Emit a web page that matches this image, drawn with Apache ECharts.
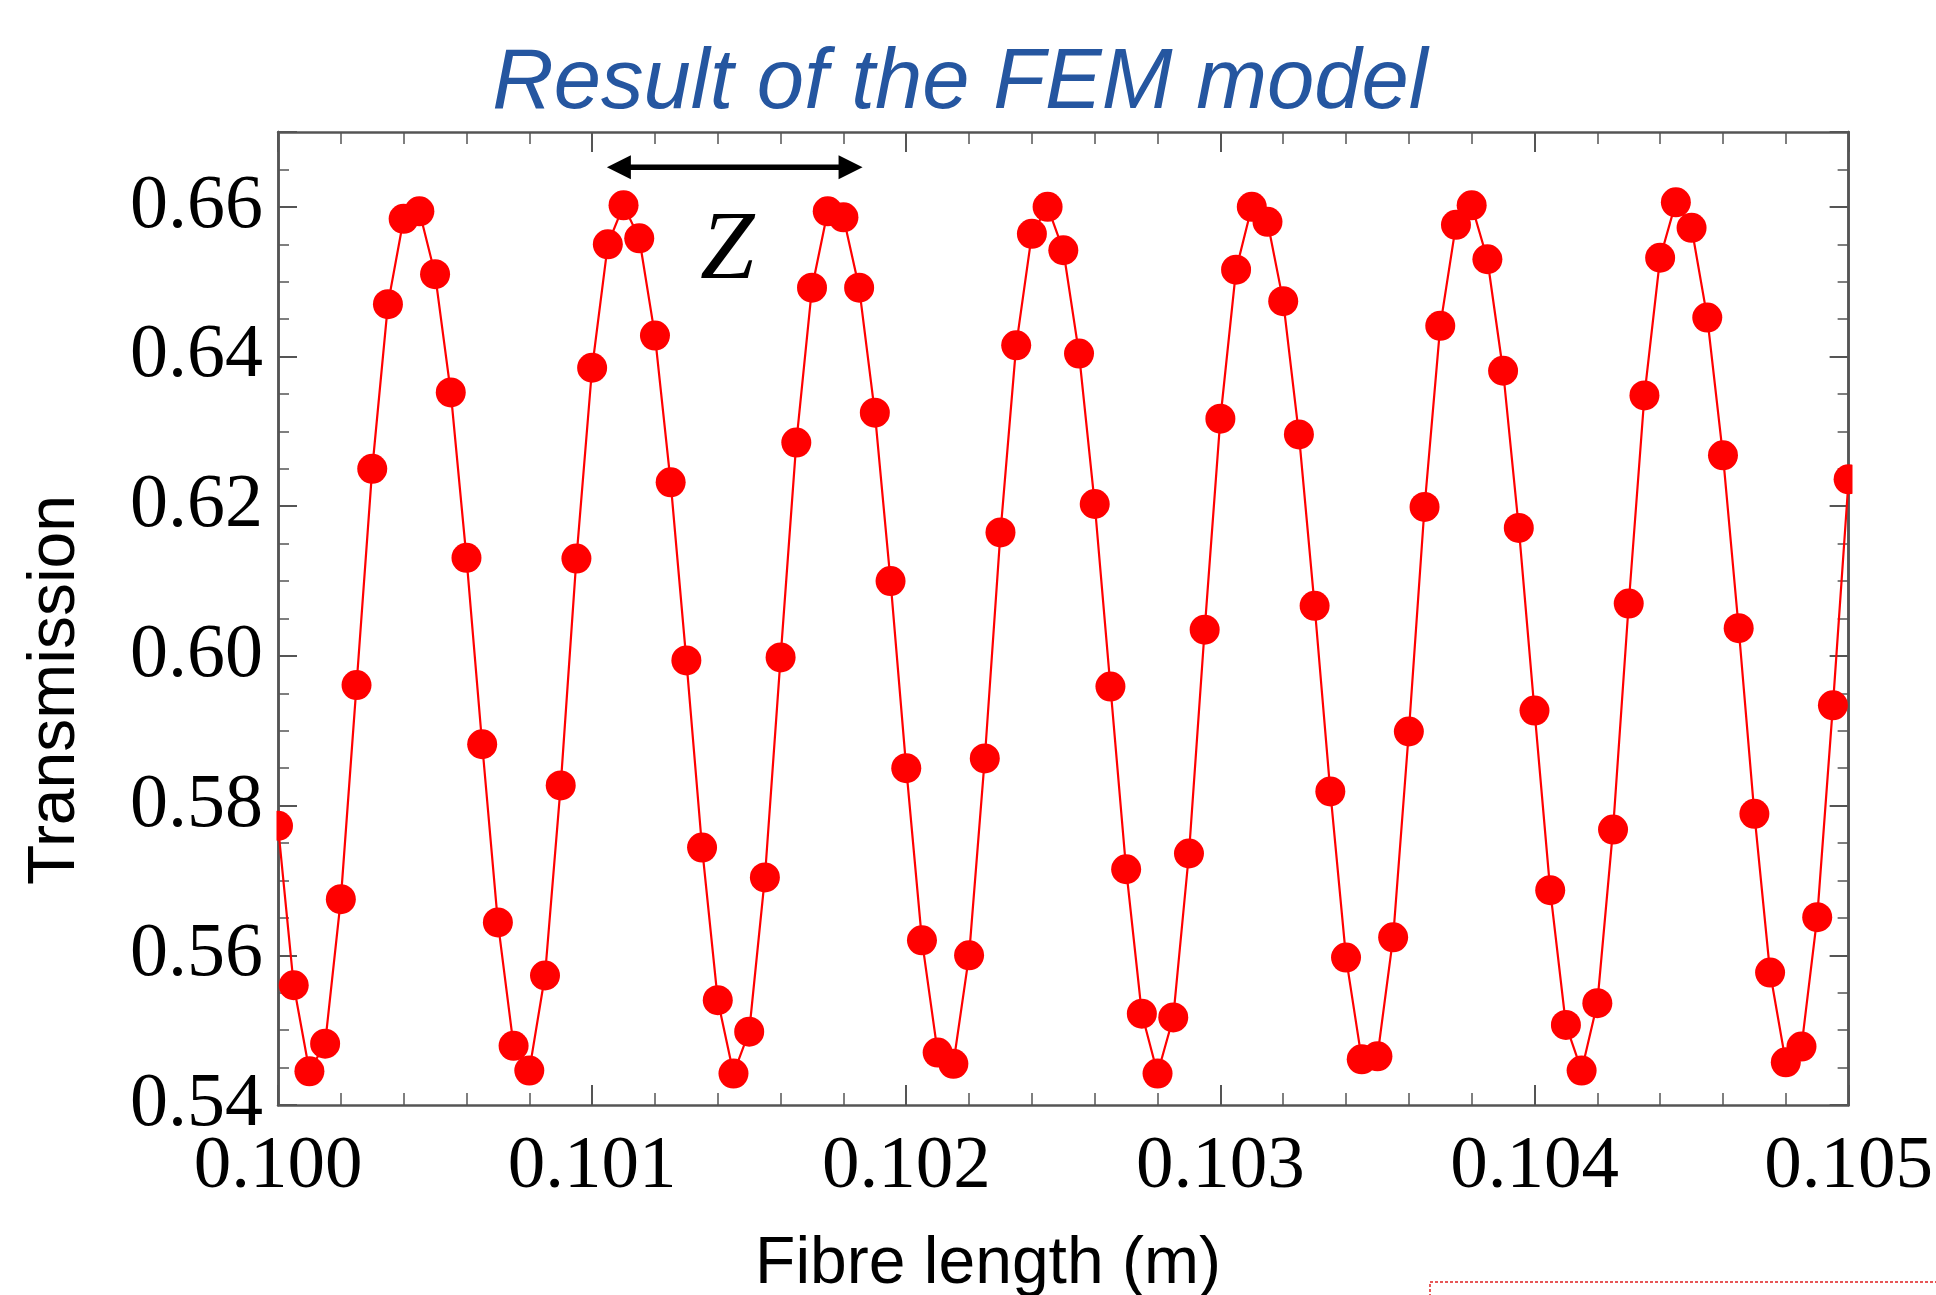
<!DOCTYPE html>
<html>
<head>
<meta charset="utf-8">
<script src="https://cdn.jsdelivr.net/npm/echarts@6/dist/echarts.min.js"></script>
<style>
html,body{margin:0;padding:0;background:#ffffff;}
#chart{width:1936px;height:1295px;}
</style>
</head>
<body>
<div id="chart"></div>
<script>
// ---- data ----
const fibreLength = [
  0.10000,0.10005,0.10010,0.10015,0.10020,0.10025,0.10030,0.10035,0.10040,0.10045,
  0.10050,0.10055,0.10060,0.10065,0.10070,0.10075,0.10080,0.10085,0.10090,0.10095,
  0.10100,0.10105,0.10110,0.10115,0.10120,0.10125,0.10130,0.10135,0.10140,0.10145,
  0.10150,0.10155,0.10160,0.10165,0.10170,0.10175,0.10180,0.10185,0.10190,0.10195,
  0.10200,0.10205,0.10210,0.10215,0.10220,0.10225,0.10230,0.10235,0.10240,0.10245,
  0.10250,0.10255,0.10260,0.10265,0.10270,0.10275,0.10280,0.10285,0.10290,0.10295,
  0.10300,0.10305,0.10310,0.10315,0.10320,0.10325,0.10330,0.10335,0.10340,0.10345,
  0.10350,0.10355,0.10360,0.10365,0.10370,0.10375,0.10380,0.10385,0.10390,0.10395,
  0.10400,0.10405,0.10410,0.10415,0.10420,0.10425,0.10430,0.10435,0.10440,0.10445,
  0.10450,0.10455,0.10460,0.10465,0.10470,0.10475,0.10480,0.10485,0.10490,0.10495,
  0.10500
];
const transmission = [
  0.5773,0.5560,0.5445,0.5482,0.5675,0.5961,0.6250,0.6470,0.6584,0.6594,
  0.6510,0.6352,0.6131,0.5882,0.5644,0.5479,0.5446,0.5573,0.5827,0.6130,
  0.6385,0.6550,0.6602,0.6558,0.6428,0.6232,0.5994,0.5744,0.5540,0.5442,
  0.5498,0.5704,0.5998,0.6285,0.6492,0.6594,0.6586,0.6492,0.6325,0.6100,
  0.5850,0.5620,0.5470,0.5455,0.5600,0.5863,0.6165,0.6415,0.6564,0.6600,
  0.6542,0.6404,0.6203,0.5959,0.5715,0.5522,0.5442,0.5517,0.5736,0.6035,
  0.6317,0.6516,0.6600,0.6580,0.6474,0.6296,0.6067,0.5819,0.5597,0.5461,
  0.5465,0.5624,0.5899,0.6199,0.6441,0.6576,0.6602,0.6530,0.6381,0.6171,
  0.5927,0.5687,0.5507,0.5446,0.5536,0.5768,0.6070,0.6348,0.6532,0.6606,
  0.6572,0.6452,0.6268,0.6037,0.5789,0.5577,0.5457,0.5478,0.5651,0.5934,
  0.6236
];
const xTickLabels = ['0.100','0.101','0.102','0.103','0.104','0.105'];
const yTickLabels = ['0.54','0.56','0.58','0.60','0.62','0.64','0.66'];
const titleText = 'Result of the FEM model';
const xAxisTitle = 'Fibre length (m)';
const yAxisTitle = 'Transmission';
const periodLabel = 'Z';
// annotation anchors (data coordinates)
const arrowXs = [0.101047, 0.101861];
const arrowY = 0.6653;
const zAnchor = [0.101430, 0.6540];

// ---- chart ----
const AX = '#555555';
const chart = echarts.init(document.getElementById('chart'), null, {renderer: 'canvas'});

function xFmt(v) {
  const k = (v - 0.1) / 0.001;
  const i = Math.round(k);
  return (Math.abs(k - i) < 1e-6 && xTickLabels[i] !== undefined) ? xTickLabels[i] : '';
}
function yFmt(v) {
  const k = (v - 0.54) / 0.02;
  const i = Math.round(k);
  return (Math.abs(k - i) < 1e-6 && yTickLabels[i] !== undefined) ? yTickLabels[i] : '';
}
const baseX = {
  type: 'value', min: 0.1, max: 0.105, interval: 0.001,
  axisLine: {show: true, onZero: false, lineStyle: {color: AX, width: 2.5}},
  axisTick: {show: true, inside: true, length: 20, lineStyle: {color: AX, width: 2}},
  minorTick: {show: true, splitNumber: 5, length: 12, lineStyle: {color: AX, width: 1.5}},
  splitLine: {show: false}, minorSplitLine: {show: false}
};
function yAxisDef(pos, interval, len, labels) {
  return {
    type: 'value', min: 0.54, max: 0.67, interval: interval, position: pos,
    axisLine: {show: true, onZero: false, lineStyle: {color: AX, width: 2.5}},
    axisTick: {show: true, inside: true, length: len, lineStyle: {color: AX, width: interval > 0.01 ? 2 : 1.5}},
    splitLine: {show: false},
    axisLabel: labels ? {
      show: true, formatter: yFmt, fontFamily: 'Liberation Serif', fontSize: 76,
      color: '#000', margin: 15, showMinLabel: true, showMaxLabel: true
    } : {show: false}
  };
}

chart.setOption({
  animation: false,
  backgroundColor: '#ffffff',
  grid: {left: 278, right: 85, top: 132, bottom: 190, containLabel: false},
  xAxis: [
    Object.assign({}, baseX, {position: 'bottom', axisLabel: {
      show: true, formatter: xFmt, fontFamily: 'Liberation Serif', fontSize: 75,
      color: '#000', margin: 25, showMinLabel: true, showMaxLabel: true}}),
    Object.assign({}, baseX, {position: 'top', axisLabel: {show: false}})
  ],
  yAxis: [
    yAxisDef('left', 0.02, 19, true),
    yAxisDef('left', 0.005, 11, false),
    yAxisDef('right', 0.02, 19, false),
    yAxisDef('right', 0.005, 11, false)
  ],
  series: [{
    type: 'line',
    xAxisIndex: 0, yAxisIndex: 0,
    data: fibreLength.map((x, i) => [x, transmission[i]]),
    symbol: 'circle', symbolSize: 30, showSymbol: true,
    itemStyle: {color: '#ff0000'},
    lineStyle: {color: '#ff0000', width: 2.2},
    clip: true, z: 3
  }]
});

const a0 = chart.convertToPixel({seriesIndex: 0}, [arrowXs[0], arrowY]);
const a1 = chart.convertToPixel({seriesIndex: 0}, [arrowXs[1], arrowY]);
const zp = chart.convertToPixel({seriesIndex: 0}, zAnchor);
const gL = 278, gR = 1936 - 85, gT = 132, gB = 1295 - 190;
const HL = 24, HW = 12;

chart.setOption({
  graphic: [
    // mask overflow of edge markers (outside the plot frame)
    {type: 'rect', z: 50, silent: true, shape: {x: gL - 16, y: gT, width: 14.5, height: gB - gT}, style: {fill: '#ffffff'}},
    {type: 'rect', z: 50, silent: true, shape: {x: gR + 1.5, y: gT, width: 18, height: gB - gT}, style: {fill: '#ffffff'}},
    {type: 'text', z: 60, style: {text: titleText, x: 960, y: 84, align: 'center', verticalAlign: 'middle',
      textAlign: 'center', textVerticalAlign: 'middle',
      font: 'italic 85px "Liberation Sans", Arial, sans-serif', fill: '#2556a0'}},
    {type: 'text', z: 60, style: {text: xAxisTitle, x: 988, y: 1265, align: 'center', verticalAlign: 'middle',
      textAlign: 'center', textVerticalAlign: 'middle',
      font: '66px "Liberation Sans", Arial, sans-serif', fill: '#000'}},
    {type: 'text', z: 60, x: 56, y: 690, rotation: Math.PI / 2,
      style: {text: yAxisTitle, x: 0, y: 0, align: 'center', verticalAlign: 'middle',
      textAlign: 'center', textVerticalAlign: 'middle',
      font: '66px "Liberation Sans", Arial, sans-serif', fill: '#000'}},
    {type: 'text', z: 60, style: {text: periodLabel, x: zp[0], y: zp[1], align: 'center', verticalAlign: 'middle',
      textAlign: 'center', textVerticalAlign: 'middle',
      font: 'italic 98px "Liberation Serif", "Times New Roman", serif', fill: '#000'}},
    {type: 'line', z: 60, shape: {x1: a0[0] + HL - 2, y1: a0[1], x2: a1[0] - HL + 2, y2: a1[1]},
      style: {stroke: '#000', lineWidth: 5.5}},
    {type: 'polygon', z: 60, shape: {points: [[a0[0], a0[1]], [a0[0] + HL, a0[1] - HW], [a0[0] + HL, a0[1] + HW]]},
      style: {fill: '#000'}},
    {type: 'polygon', z: 60, shape: {points: [[a1[0], a1[1]], [a1[0] - HL, a1[1] - HW], [a1[0] - HL, a1[1] + HW]]},
      style: {fill: '#000'}},
    // partial dashed box at lower right
    {type: 'rect', z: 60, silent: true, shape: {x: 1430, y: 1282, width: 600, height: 100},
      style: {fill: 'none', stroke: '#e02020', lineWidth: 1.5, lineDash: [3, 2]}}
  ]
});
</script>
</body>
</html>
